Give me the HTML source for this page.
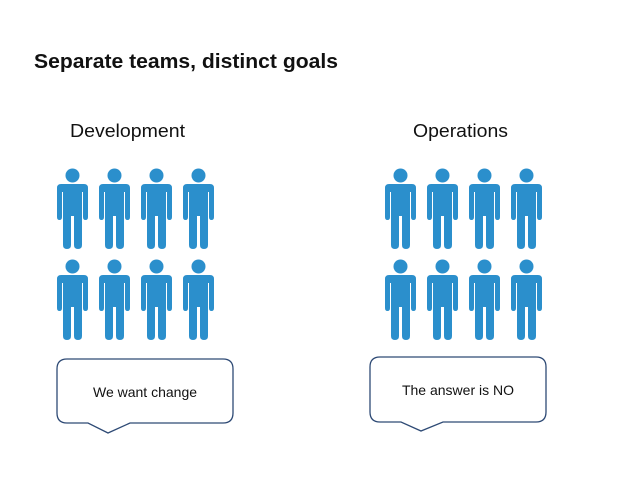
<!DOCTYPE html>
<html><head><meta charset="utf-8"><style>
body{margin:0;background:#fff;}
svg{display:block;font-family:"Liberation Sans",sans-serif;}
</style></head><body>
<svg width="638" height="479" viewBox="0 0 638 479">
<defs>
<g id="person">
<circle cx="15.5" cy="7.5" r="7" fill="#2b8fcc"/>
<path d="M4,16 H27 Q31,16 31,20 V49 Q31,52 28.5,52 Q26,52 26,49 V24 H25 V77 Q25,81 21,81 Q17,81 17,77 V48 H14 V77 Q14,81 10,81 Q6,81 6,77 V24 H5 V49 Q5,52 2.5,52 Q0,52 0,49 V20 Q0,16 4,16 Z" fill="#2b8fcc"/>
</g>
</defs>
<text x="34" y="68" font-size="20" font-weight="bold" fill="#111" textLength="304" lengthAdjust="spacingAndGlyphs">Separate teams, distinct goals</text>
<text x="70" y="137" font-size="18" fill="#111" textLength="115" lengthAdjust="spacingAndGlyphs">Development</text>
<text x="413" y="137" font-size="18" fill="#111" textLength="95" lengthAdjust="spacingAndGlyphs">Operations</text>
<g>
<use href="#person" x="57" y="168"/><use href="#person" x="99" y="168"/><use href="#person" x="141" y="168"/><use href="#person" x="183" y="168"/>
<use href="#person" x="57" y="259"/><use href="#person" x="99" y="259"/><use href="#person" x="141" y="259"/><use href="#person" x="183" y="259"/>
</g>
<g>
<use href="#person" x="385" y="168"/><use href="#person" x="427" y="168"/><use href="#person" x="469" y="168"/><use href="#person" x="511" y="168"/>
<use href="#person" x="385" y="259"/><use href="#person" x="427" y="259"/><use href="#person" x="469" y="259"/><use href="#person" x="511" y="259"/>
</g>
<g>
<path d="M67,359 H223 Q233,359 233,369 V413 Q233,423 223,423 H130 L108,433 L88,423 H67 Q57,423 57,413 V369 Q57,359 67,359 Z" fill="#fff" stroke="#2e4a75" stroke-width="1.3"/>
<text x="145" y="397" font-size="14" fill="#111" text-anchor="middle">We want change</text>
</g>
<g>
<path d="M380,357 H536 Q546,357 546,367 V412 Q546,422 536,422 H443 L421,431 L401,422 H380 Q370,422 370,412 V367 Q370,357 380,357 Z" fill="#fff" stroke="#2e4a75" stroke-width="1.3"/>
<text x="458" y="395" font-size="14" fill="#111" text-anchor="middle">The answer is NO</text>
</g>
</svg>
</body></html>
